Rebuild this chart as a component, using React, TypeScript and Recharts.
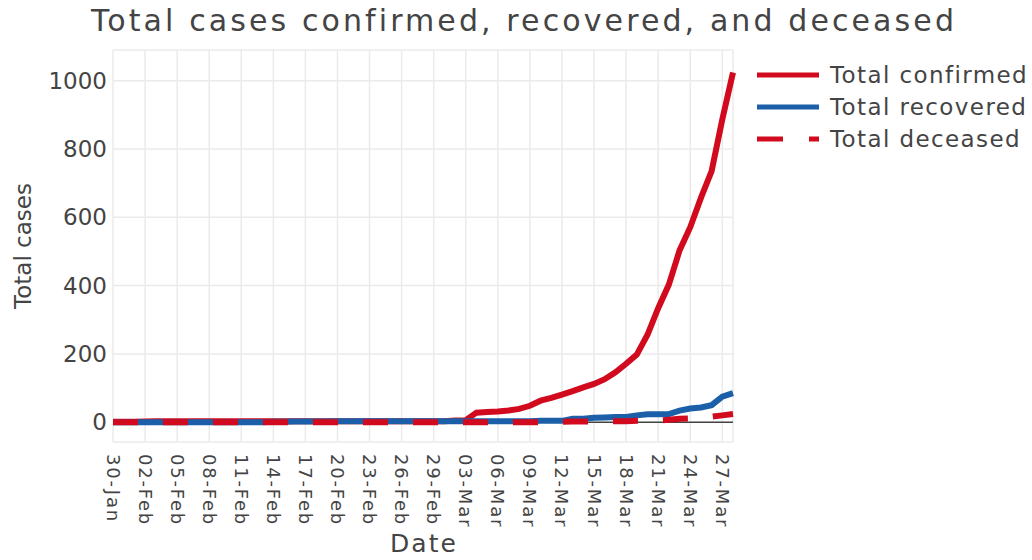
import React from 'react'
import { LineChart, Line, XAxis, YAxis, CartesianGrid, ReferenceLine } from 'recharts'

// 30-Jan .. 28-Mar (2020)
const dates = [
  '30-Jan', '31-Jan',
  '01-Feb', '02-Feb', '03-Feb', '04-Feb', '05-Feb', '06-Feb', '07-Feb', '08-Feb', '09-Feb', '10-Feb',
  '11-Feb', '12-Feb', '13-Feb', '14-Feb', '15-Feb', '16-Feb', '17-Feb', '18-Feb', '19-Feb', '20-Feb',
  '21-Feb', '22-Feb', '23-Feb', '24-Feb', '25-Feb', '26-Feb', '27-Feb', '28-Feb', '29-Feb',
  '01-Mar', '02-Mar', '03-Mar', '04-Mar', '05-Mar', '06-Mar', '07-Mar', '08-Mar', '09-Mar', '10-Mar',
  '11-Mar', '12-Mar', '13-Mar', '14-Mar', '15-Mar', '16-Mar', '17-Mar', '18-Mar', '19-Mar', '20-Mar',
  '21-Mar', '22-Mar', '23-Mar', '24-Mar', '25-Mar', '26-Mar', '27-Mar', '28-Mar',
]

const confirmed = [
  1, 1,
  1, 2, 3, 3, 3, 3, 3, 3, 3, 3,
  3, 3, 3, 3, 3, 3, 3, 3, 3, 3,
  3, 3, 3, 3, 3, 3, 3, 3, 3,
  3, 5, 6, 28, 30, 31, 34, 39, 48, 63,
  71, 81, 91, 102, 112, 126, 146, 171, 198, 256,
  334, 403, 503, 571, 657, 735, 887, 1024,
]

const recovered = [
  0, 0,
  0, 0, 0, 0, 0, 0, 0, 0, 0, 0,
  0, 0, 0, 1, 1, 2, 2, 2, 2, 3,
  3, 3, 3, 3, 3, 3, 3, 3, 3,
  3, 3, 3, 3, 3, 3, 3, 3, 3, 4,
  4, 4, 10, 10, 13, 14, 15, 15, 20, 23,
  23, 24, 34, 40, 43, 50, 75, 85,
]

const deceased = [
  0, 0,
  0, 0, 0, 0, 0, 0, 0, 0, 0, 0,
  0, 0, 0, 0, 0, 0, 0, 0, 0, 0,
  0, 0, 0, 0, 0, 0, 0, 0, 0,
  0, 0, 0, 0, 0, 0, 0, 0, 0, 0,
  0, 1, 2, 2, 2, 2, 3, 3, 4, 5,
  5, 7, 10, 11, 12, 16, 20, 24,
]

const yTicks = [0, 200, 400, 600, 800, 1000]

const RED = '#d10a1e'
const BLUE = '#1b5fa8'
const TEXT = '#444'
const FONT = '"DejaVu Sans", Verdana, sans-serif'

const series = [
  { key: 'confirmed', name: 'Total confirmed', color: RED, dash: undefined },
  { key: 'recovered', name: 'Total recovered', color: BLUE, dash: undefined },
  { key: 'deceased', name: 'Total deceased', color: RED, dash: '25 25' },
]

const data = dates.map((date, i) => ({
  date,
  confirmed: confirmed[i],
  recovered: recovered[i],
  deceased: deceased[i],
}))

const DateTick = ({ x, y, payload }: any) => (
  <text
    transform={`translate(${x},${y + 12}) rotate(90)`}
    textAnchor="start"
    dominantBaseline="central"
    fontSize={18}
    letterSpacing={1.8}
    fontFamily={FONT}
    fill={TEXT}
  >
    {payload.value}
  </text>
)

export default function App() {
  return (
    <div style={{ position: 'fixed', left: 0, top: 0, width: 1032, height: 560, background: '#fff' }}>
      <LineChart width={1032} height={560} data={data} margin={{ top: 50, right: 299, bottom: 0, left: 13 }}>
        <CartesianGrid stroke="#ebebeb" strokeWidth={1.5} />
        <XAxis
          dataKey="date"
          interval={2}
          axisLine={false}
          tickLine={false}
          tickSize={0}
          tickMargin={0}
          height={118}
          tick={<DateTick />}
        />
        <YAxis
          domain={[-58, 1090]}
          ticks={yTicks}
          axisLine={false}
          tickLine={false}
          tickSize={0}
          tickMargin={6}
          width={100}
          tick={{ fontSize: 23, fontFamily: FONT, fill: TEXT }}
        />
        <ReferenceLine y={0} stroke="#444" strokeWidth={1.5} />
        {series.map((s) => (
          <Line
            key={s.key}
            type="linear"
            dataKey={s.key}
            name={s.name}
            stroke={s.color}
            strokeWidth={6}
            strokeDasharray={s.dash}
            dot={false}
            activeDot={false}
            isAnimationActive={false}
          />
        ))}
      </LineChart>
      <svg
        width={1032}
        height={560}
        style={{ position: 'absolute', left: 0, top: 0, pointerEvents: 'none' }}
        fontFamily={FONT}
      >
        <text x={524} y={31} textAnchor="middle" fontSize={30} letterSpacing={3.1} fill={TEXT}>
          Total cases confirmed, recovered, and deceased
        </text>
        <text x={424} y={552} textAnchor="middle" fontSize={25} letterSpacing={2} fill={TEXT}>
          Date
        </text>
        <text
          transform="translate(31,246) rotate(-90)"
          textAnchor="middle"
          fontSize={23}
          fill={TEXT}
        >
          Total cases
        </text>
        {series.map((s, i) => {
          const cy = 75 + i * 32
          return (
            <g key={s.key}>
              <line
                x1={757}
                x2={819}
                y1={cy}
                y2={cy}
                stroke={s.color}
                strokeWidth={5}
                strokeDasharray={s.dash ? '26 26' : undefined}
              />
              <text x={830} y={cy} dominantBaseline="central" fontSize={23} letterSpacing={1.4} fill={TEXT}>
                {s.name}
              </text>
            </g>
          )
        })}
      </svg>
    </div>
  )
}
